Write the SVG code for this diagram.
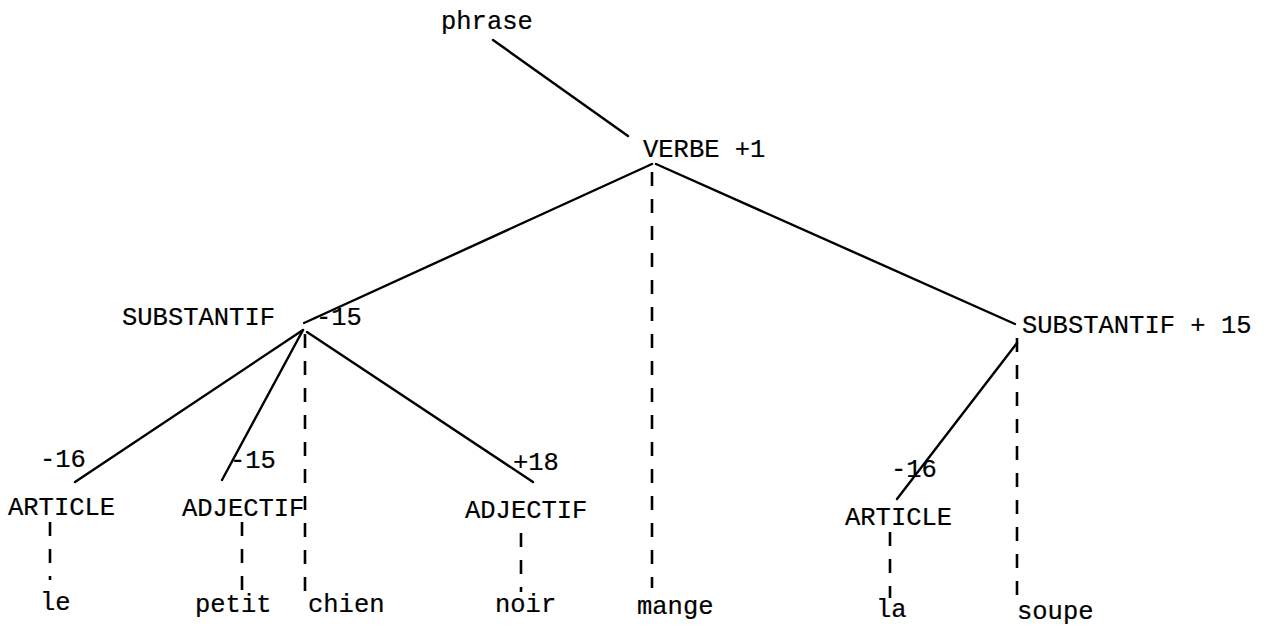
<svg xmlns="http://www.w3.org/2000/svg" width="1273" height="626" viewBox="0 0 1273 626">
<style>
text{font-family:"Liberation Mono","Courier New",monospace;font-size:25.5px;fill:#000;stroke:#000;stroke-width:0.2}
.l{stroke:#000;stroke-width:2.4;fill:none;stroke-linecap:round}
.d{stroke:#000;stroke-width:2.6;fill:none;stroke-dasharray:14 13}
</style>
<rect width="1273" height="626" fill="#fff"/>
<g id="connectors">
<line class="l" x1="493" y1="40" x2="628" y2="136"/>
<line class="l" x1="652" y1="164" x2="315" y2="318"/>
<line class="l" x1="315" y1="318" x2="304" y2="323"/>
<line class="l" x1="656" y1="164" x2="1015" y2="324"/>
<line class="d" x1="652" y1="172" x2="652" y2="588"/>
<line class="l" x1="303" y1="330" x2="75" y2="482"/>
<line class="l" x1="303" y1="330" x2="222" y2="480"/>
<line class="l" stroke-width="1.8" x1="307" y1="332" x2="533" y2="482"/>
<line class="d" x1="305" y1="334" x2="305" y2="597"/>
<line class="d" x1="50" y1="522" x2="50" y2="580"/>
<line class="d" x1="242" y1="522" x2="242" y2="590"/>
<line class="d" x1="521" y1="533" x2="521" y2="592"/>
<line class="l" x1="1017" y1="343" x2="897" y2="499"/>
<line class="d" x1="1017" y1="338" x2="1017" y2="600"/>
<line class="d" x1="890" y1="532" x2="890" y2="598"/>
</g>
<g id="phrase"><text x="441" y="29">phrase</text></g>
<g id="verbe"><text x="643" y="157">VERBE +1</text></g>
<g id="subst1"><text x="122" y="325">SUBSTANTIF</text><text x="316" y="325">-15</text></g>
<g id="art1"><text x="40" y="467">-16</text><text x="8" y="515">ARTICLE</text></g>
<g id="adj1"><text x="230" y="468">-15</text><text x="182" y="516">ADJECTIF</text></g>
<g id="adj2"><text x="513" y="470">+18</text><text x="465" y="518">ADJECTIF</text></g>
<g id="subst2"><text x="1022" y="333">SUBSTANTIF + 15</text></g>
<g id="art2"><text x="891" y="477">-16</text><text x="845" y="525">ARTICLE</text></g>
<g id="w-le"><text x="40" y="610">le</text></g>
<g id="w-petit"><text x="195" y="612">petit</text></g>
<g id="w-chien"><text x="308" y="612">chien</text></g>
<g id="w-noir"><text x="495" y="612">noir</text></g>
<g id="w-mange"><text x="637" y="614">mange</text></g>
<g id="w-la"><text x="876" y="617">la</text></g>
<g id="w-soupe"><text x="1017" y="619">soupe</text></g>
</svg>
